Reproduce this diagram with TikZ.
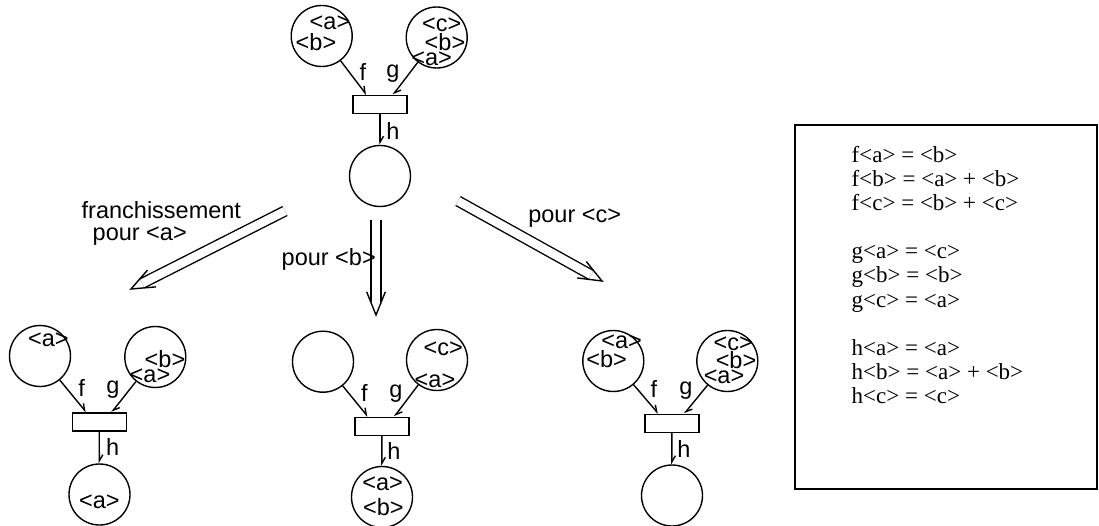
\documentclass[tikz,border=0pt]{standalone}
\usepackage{fontspec}
\setmainfont{Liberation Serif}
\newfontfamily\labelfont{Liberation Sans}
\usetikzlibrary{arrows.meta,calc}

\begin{document}
\begin{tikzpicture}[x=1pt,y=-1pt,
  line width=1.4pt,
  place/.style={circle,draw,minimum size=61pt,inner sep=0pt},
  trans/.style={rectangle,draw,minimum width=54pt,minimum height=18pt,inner sep=0pt},
  tok/.style={font=\labelfont\fontsize{23.5}{26}\selectfont,inner sep=0pt,anchor=base},
  lbl/.style={font=\labelfont\fontsize{23.5}{26}\selectfont,inner sep=0pt,anchor=base west},
  parc/.style={-{Straight Barb[left,length=6pt,width=7pt]}},
  bigarrow/.style={double,double distance=8.5pt,shorten >=12.6pt},
  rule/.style={font=\fontsize{23}{24}\selectfont,inner sep=0pt,anchor=base west},
]
\useasboundingbox (0,0) rectangle (1099,526);

% ---------- initial marking ----------
\node[place] (p0l) at (321.7,36) {};
\node[place] (p0r) at (436.7,37.5) {};
\node[trans] (t0) at (380,104.5) {};
\node[place] (p0b) at (380,176) {};
\draw[parc] (p0l) -- ([xshift=-13.5pt]t0.north);
\draw[parc] (p0r) -- ([xshift=13pt]t0.north);
\draw[parc] (t0.south) -- (p0b);
\node[tok] (f0) at (363,80.5) {f};
\node[tok] (g0) at (393,77.5) {g};
\node[tok] (h0) at (393,139.5) {h};
\node[tok] (k01) at (330,29.8) {<a>};
\node[tok] (k02) at (316,50.3) {<b>};
\node[tok] (k03) at (441.7,31.1) {<c>};
\node[tok] (k04) at (445,50.3) {<b>};
\node[tok] (k05) at (431.7,65.4) {<a>};

% ---------- firing arrows ----------
\coordinate (aS) at (285,211);
\coordinate (aE) at (131,289);
\coordinate (bS) at (376,220);
\coordinate (bE) at (376,315);
\coordinate (cS) at (458,201);
\coordinate (cE) at (602,281);
\foreach \s/\e in {aS/aE,bS/bE,cS/cE}{
  \draw[bigarrow] (\s) -- (\e);
  \draw ($(\e)!25pt!22:(\s)$) -- (\e) -- ($(\e)!25pt!-22:(\s)$);
}
\node[lbl] (la1) at (81,219) {franchissement};
\node[lbl] (la2) at (92,241) {pour <a>};
\node[lbl] (lb) at (281,266) {pour <b>};
\node[lbl] (lc) at (527.6,223) {pour <c>};

% ---------- firing for <a> ----------
\node[place] (p1l) at (40,356) {};
\node[place] (p1r) at (155.3,357) {};
\node[trans] (t1) at (99.2,421.9) {};
\node[place] (p1b) at (99.5,494.5) {};
\draw[parc] (p1l) -- ([xshift=-13pt]t1.north);
\draw[parc] (p1r) -- ([xshift=12.5pt]t1.north);
\draw[parc] (t1.south) -- (p1b);
\node[tok] (f1) at (81.7,396.5) {f};
\node[tok] (g1) at (113,393.5) {g};
\node[tok] (h1) at (112.7,455.2) {h};
\node[tok] (k11) at (48.3,346.4) {<a>};
\node[tok] (k12) at (165,367.6) {<b>};
\node[tok] (k13) at (150,382.1) {<a>};
\node[tok] (k14) at (99.3,508.8) {<a>};

% ---------- firing for <b> ----------
\node[place] (p2l) at (323,361.7) {};
\node[place] (p2r) at (437,360) {};
\node[trans] (t2) at (381.8,426.3) {};
\node[place] (p2b) at (382,497) {};
\draw[parc] (p2l) -- ([xshift=-14pt]t2.north);
\draw[parc] (p2r) -- ([xshift=12.5pt]t2.north);
\draw[parc] (t2.south) -- (p2b);
\node[tok] (f2) at (364.3,401.5) {f};
\node[tok] (g2) at (396,397.5) {g};
\node[tok] (h2) at (394,459.5) {h};
\node[tok] (k21) at (443.3,355.4) {<c>};
\node[tok] (k22) at (435,387.1) {<a>};
\node[tok] (k23) at (382.7,490.4) {<a>};
\node[tok] (k24) at (383.3,515.9) {<b>};

% ---------- firing for <c> ----------
\node[place] (p3l) at (613.3,361) {};
\node[place] (p3r) at (727.3,361) {};
\node[trans] (t3) at (671.8,423.3) {};
\node[place] (p3b) at (672,495.5) {};
\draw[parc] (p3l) -- ([xshift=-13.5pt]t3.north);
\draw[parc] (p3r) -- ([xshift=12.5pt]t3.north);
\draw[parc] (t3.south) -- (p3b);
\node[tok] (f3) at (654,397) {f};
\node[tok] (g3) at (686,394.5) {g};
\node[tok] (h3) at (684,457.5) {h};
\node[tok] (k31) at (621.7,348.8) {<a>};
\node[tok] (k32) at (606.7,367.9) {<b>};
\node[tok] (k33) at (733.3,350.4) {<c>};
\node[tok] (k34) at (736,368.6) {<b>};
\node[tok] (k35) at (724,383.8) {<a>};

% ---------- colour functions ----------
\draw[line width=1.1pt] (795,125) rectangle (1097,489);
\node[rule] (r1) at (851,163) {f<a> = <b>};
\node[rule] (r2) at (851,187) {f<b> = <a> + <b>};
\node[rule] (r3) at (851,211) {f<c> = <b> + <c>};
\node[rule] (r4) at (851,259) {g<a> = <c>};
\node[rule] (r5) at (851,283) {g<b> = <b>};
\node[rule] (r6) at (851,307) {g<c> = <a>};
\node[rule] (r7) at (851,355) {h<a> = <a>};
\node[rule] (r8) at (851,379) {h<b> = <a> + <b>};
\node[rule] (r9) at (851,403) {h<c> = <c>};
\end{tikzpicture}
\end{document}
